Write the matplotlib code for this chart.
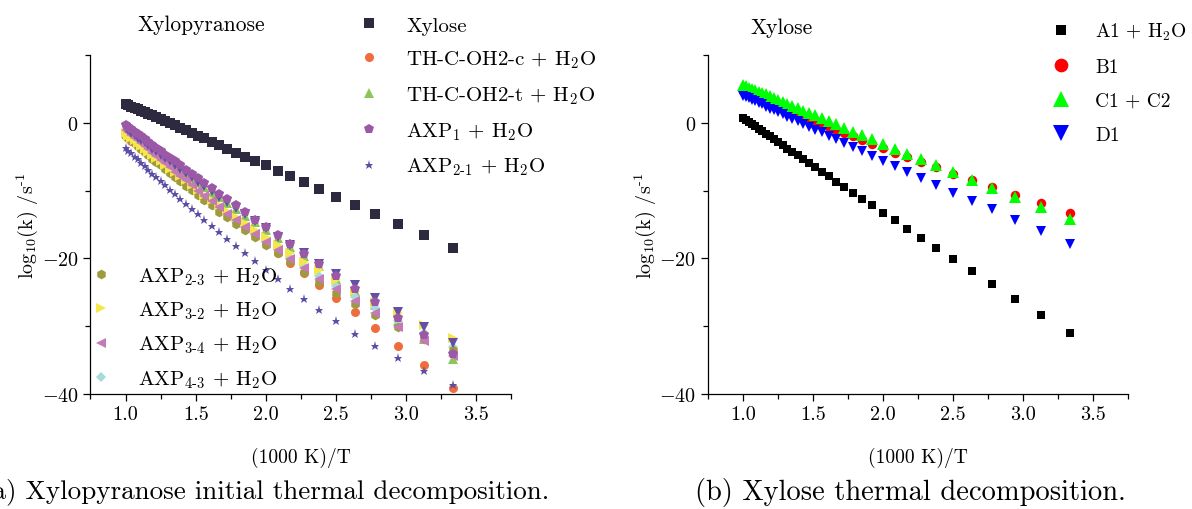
import numpy as np
import matplotlib
matplotlib.use("Agg")
import matplotlib.pyplot as plt
from matplotlib.ticker import FormatStrFormatter

plt.rcParams['font.family'] = ['cmr10', 'DejaVu Serif']
plt.rcParams['mathtext.fontset'] = 'cm'
plt.rcParams['axes.formatter.use_mathtext'] = True

# temperatures in K, x axis is 1000/T
temps = [1000, 980, 960, 940, 920, 900, 880, 860, 840, 820, 800, 780,
         760, 740, 720, 700, 680, 660, 640, 620, 600, 580, 560, 540,
         520, 500, 480, 460, 440, 420, 400, 380, 360, 340, 320, 300]

# log10(k) values, xylopyranose
xylose = [2.8, 2.6, 2.4, 2.2, 2.0, 1.8, 1.6, 1.3, 1.1, 0.8, 0.5, 0.2,
          -0.1, -0.4, -0.8, -1.1, -1.5, -1.9, -2.3, -2.8, -3.3, -3.8, -4.4, -5.0,
          -5.6, -6.3, -7.1, -7.9, -8.8, -9.8, -10.9, -12.1, -13.5, -15.0, -16.6, -18.5]
th_c = [-2.0, -2.3, -2.7, -3.0, -3.4, -3.8, -4.2, -4.6, -5.0, -5.5, -6.0, -6.5,
        -7.0, -7.6, -8.2, -8.8, -9.5, -10.2, -10.9, -11.7, -12.6, -13.5, -14.5, -15.5,
        -16.7, -17.9, -19.2, -20.7, -22.2, -24.0, -25.9, -27.9, -30.3, -32.9, -35.8, -39.1]
th_t = [-1.5, -1.8, -2.1, -2.4, -2.7, -3.1, -3.5, -3.8, -4.2, -4.6, -5.1, -5.5,
        -6.0, -6.5, -7.1, -7.6, -8.2, -8.9, -9.5, -10.3, -11.0, -11.9, -12.7, -13.7,
        -14.7, -15.8, -17.0, -18.3, -19.7, -21.2, -23.0, -24.8, -26.9, -29.3, -31.9, -34.9]
axp1 = [-0.3, -0.6, -0.9, -1.3, -1.7, -2.0, -2.4, -2.8, -3.3, -3.7, -4.2, -4.7,
        -5.2, -5.7, -6.3, -6.9, -7.5, -8.2, -8.9, -9.7, -10.5, -11.3, -12.2, -13.2,
        -14.3, -15.4, -16.6, -17.9, -19.4, -20.9, -22.6, -24.5, -26.5, -28.8, -31.3, -34.1]
axp21 = [-3.7, -4.1, -4.5, -5.0, -5.4, -5.9, -6.4, -6.9, -7.5, -8.0, -8.6, -9.2,
         -9.9, -10.5, -11.2, -12.0, -12.7, -13.5, -14.4, -15.3, -16.2, -17.2, -18.2, -19.3,
         -20.4, -21.7, -23.0, -24.5, -26.0, -27.7, -29.3, -31.2, -33.0, -34.8, -36.7, -38.7]
axp12 = [-0.8, -1.1, -1.5, -1.8, -2.2, -2.5, -2.9, -3.3, -3.8, -4.2, -4.7, -5.2,
         -5.7, -6.2, -6.8, -7.4, -8.0, -8.7, -9.3, -10.1, -10.9, -11.7, -12.6, -13.5,
         -14.5, -15.6, -16.8, -18.0, -19.3, -20.8, -22.3, -24.0, -25.9, -27.9, -30.1, -32.5]
axp23 = [-1.9, -2.3, -2.6, -3.0, -3.5, -3.9, -4.3, -4.8, -5.3, -5.8, -6.3, -6.8,
         -7.4, -8.0, -8.6, -9.3, -9.9, -10.7, -11.4, -12.2, -13.1, -13.9, -14.9, -15.9,
         -16.9, -18.0, -19.2, -20.4, -22.0, -23.5, -25.1, -26.7, -28.4, -30.1, -31.9, -33.6]
axp32 = [-1.5, -1.9, -2.2, -2.6, -3.0, -3.4, -3.8, -4.3, -4.7, -5.2, -5.7, -6.2,
         -6.8, -7.3, -7.9, -8.5, -9.2, -9.9, -10.6, -11.4, -12.2, -13.0, -13.9, -14.8,
         -15.8, -16.9, -18.0, -19.2, -20.5, -21.8, -23.2, -24.8, -26.4, -28.1, -29.9, -31.8]
axp34 = [-1.0, -1.4, -1.8, -2.2, -2.6, -3.0, -3.5, -3.9, -4.4, -4.9, -5.5, -6.0,
         -6.6, -7.2, -7.9, -8.5, -9.2, -10.0, -10.8, -11.6, -12.4, -13.4, -14.3, -15.4,
         -16.4, -17.6, -18.8, -20.1, -21.5, -23.0, -24.6, -26.3, -28.1, -30.1, -32.2, -34.4]
axp43 = [-1.8, -2.2, -2.5, -2.9, -3.3, -3.7, -4.2, -4.6, -5.1, -5.6, -6.1, -6.6,
         -7.2, -7.7, -8.3, -9.0, -9.6, -10.4, -11.1, -11.9, -12.7, -13.6, -14.5, -15.4,
         -16.5, -17.6, -18.7, -19.9, -21.2, -22.6, -24.1, -25.7, -27.4, -29.2, -31.1, -33.1]

# log10(k) values, xylose
a1 = [0.7, 0.4, 0.1, -0.2, -0.5, -0.9, -1.2, -1.6, -2.0, -2.4, -2.9, -3.3,
      -3.8, -4.3, -4.8, -5.4, -6.0, -6.6, -7.2, -7.9, -8.7, -9.5, -10.3, -11.3,
      -12.2, -13.3, -14.4, -15.7, -17.0, -18.5, -20.1, -21.9, -23.8, -26.0, -28.4, -31.1]
b1 = [4.7, 4.5, 4.3, 4.1, 3.9, 3.7, 3.5, 3.3, 3.0, 2.8, 2.5, 2.2,
      1.9, 1.6, 1.3, 1.0, 0.6, 0.2, -0.2, -0.6, -1.0, -1.5, -2.0, -2.5,
      -3.1, -3.7, -4.4, -5.1, -5.8, -6.6, -7.5, -8.5, -9.5, -10.7, -11.9, -13.3]
c1c2 = [5.6, 5.4, 5.2, 5.0, 4.8, 4.6, 4.4, 4.2, 3.9, 3.7, 3.4, 3.1,
        2.8, 2.5, 2.2, 1.8, 1.5, 1.1, 0.7, 0.2, -0.2, -0.7, -1.3, -1.8,
        -2.4, -3.1, -3.8, -4.6, -5.4, -6.3, -7.3, -8.4, -9.6, -11.0, -12.5, -14.2]
d1 = [4.0, 3.8, 3.6, 3.4, 3.2, 2.9, 2.7, 2.4, 2.1, 1.9, 1.6, 1.3,
      0.9, 0.6, 0.2, -0.2, -0.6, -1.0, -1.4, -1.9, -2.4, -3.0, -3.6, -4.2,
      -4.9, -5.6, -6.4, -7.2, -8.2, -9.2, -10.3, -11.5, -12.8, -14.3, -16.0, -17.9]

inv_t = 1000.0 / np.array(temps)

W, H = 1192, 510
fig = plt.figure(figsize=(W / 100, H / 100), dpi=100)
ax1 = fig.add_axes([0.0759, 0.2261, 0.3532, 0.664])
ax2 = fig.add_axes([0.594, 0.2261, 0.3524, 0.664])


def style_axes(ax):
    ax.set_xlim(0.75, 3.75)
    ax.set_ylim(-40, 10)
    ax.spines['top'].set_visible(False)
    ax.spines['right'].set_visible(False)
    ax.set_xticks([1.0, 1.5, 2.0, 2.5, 3.0, 3.5])
    ax.set_xticks([0.75, 1.25, 1.75, 2.25, 2.75, 3.25, 3.75], minor=True)
    ax.xaxis.set_major_formatter(FormatStrFormatter('%.1f'))
    ax.set_yticks([-40, -20, 0])
    ax.set_yticks([-30, -10, 10], minor=True)
    ax.tick_params(which='major', length=5, width=0.9, labelsize=14.5, direction='out')
    ax.tick_params(which='minor', length=3.5, width=0.9, direction='out')
    for s in ['left', 'bottom']:
        ax.spines[s].set_linewidth(0.9)
    ax.set_xlabel('(1000 K)/T', fontsize=14, labelpad=17)
    ax.set_ylabel(r'log$_{10}$(k) /s$^{\text{-1}}$', fontsize=14.5, labelpad=1)


def fig_legend(ax, handles, labels, x, y, spacing, fs=15, pad=1.28, **kw):
    # legend anchored at a pixel position of the figure
    return ax.legend(handles, labels, loc='upper left',
                     bbox_to_anchor=(x / W, 1 - y / H), bbox_transform=fig.transFigure,
                     frameon=False, fontsize=fs, borderpad=0, borderaxespad=0,
                     handlelength=1.0, handletextpad=pad, labelspacing=spacing, **kw)


# left panel
ms = 6.5
h_xyl, = ax1.plot(inv_t, xylose, ls='none', marker='s', ms=ms, mew=0, color='#2d2a3f', zorder=3)
h_thc, = ax1.plot(inv_t, th_c, ls='none', marker='o', ms=ms, mew=0, color='#ef6d3d', zorder=3)
h_tht, = ax1.plot(inv_t, th_t, ls='none', marker='^', ms=ms, mew=0, color='#8cc65a', zorder=3)
h_43, = ax1.plot(inv_t, axp43, ls='none', marker='D', ms=5.5, mew=0, color='#a6dadb', zorder=3)
h_23, = ax1.plot(inv_t, axp23, ls='none', marker='h', ms=ms + 0.5, mew=0, color='#9e9a3f', zorder=3)
h_32, = ax1.plot(inv_t, axp32, ls='none', marker='>', ms=ms, mew=0, color='#f5e64c', zorder=3)
h_34, = ax1.plot(inv_t, axp34, ls='none', marker='<', ms=ms, mew=0, color='#c57ab8', zorder=3)
ax1.plot(inv_t, axp12, ls='none', marker='v', ms=ms, mew=0, color='#6150a6', zorder=3)
h_1, = ax1.plot(inv_t, axp1, ls='none', marker='p', ms=ms + 0.5, mew=0, color='#9a58a6', zorder=3)
h_21, = ax1.plot(inv_t, axp21, ls='none', marker='*', ms=ms, mew=0, color='#5d4ea5', zorder=3)

style_axes(ax1)

leg1 = fig_legend(ax1, [h_xyl, h_thc, h_tht, h_1, h_21],
                  ['Xylose', r'TH-C-OH2-c + H$_2$O', r'TH-C-OH2-t + H$_2$O',
                   r'AXP$_1$ + H$_2$O', r'AXP$_{2\text{-}1}$ + H$_2$O'], 358.6, 17, 0.68)
ax1.add_artist(leg1)
fig_legend(ax1, [h_23, h_32, h_34, h_43],
           [r'AXP$_{2\text{-}3}$ + H$_2$O', r'AXP$_{3\text{-}2}$ + H$_2$O',
            r'AXP$_{3\text{-}4}$ + H$_2$O', r'AXP$_{4\text{-}3}$ + H$_2$O'], 90.6, 266, 0.62)

# right panel
ax2.plot(inv_t, a1, ls='none', marker='s', ms=5.2, mew=0, color='black', label=r'A1 + H$_2$O')
ax2.plot(inv_t, b1, ls='none', marker='o', ms=6.8, mew=0, color='#ff0000', label='B1')
ax2.plot(inv_t, c1c2, ls='none', marker='^', ms=8, mew=0, color='#00ff00', label='C1 + C2')
ax2.plot(inv_t, d1, ls='none', marker='v', ms=7.5, mew=0, color='#0000ff', label='D1')
style_axes(ax2)
h2, l2 = ax2.get_legend_handles_labels()
fig_legend(ax2, h2, l2, 1051.3, 22, 0.82, fs=14, pad=1.25, markerscale=1.45)

fig.text(201 / W, 1 - 25 / H, 'Xylopyranose', ha='center', va='center', fontsize=15.5)
fig.text(782 / W, 1 - 28 / H, 'Xylose', ha='center', va='center', fontsize=15.5)

fig.text(549 / W, 1 - 493 / H, '(a) Xylopyranose initial thermal decomposition.',
         ha='right', va='center', fontsize=19.5)
fig.text(910 / W, 1 - 493 / H, '(b) Xylose thermal decomposition.',
         ha='center', va='center', fontsize=20.5)

fig.savefig('out.png', dpi=100)
